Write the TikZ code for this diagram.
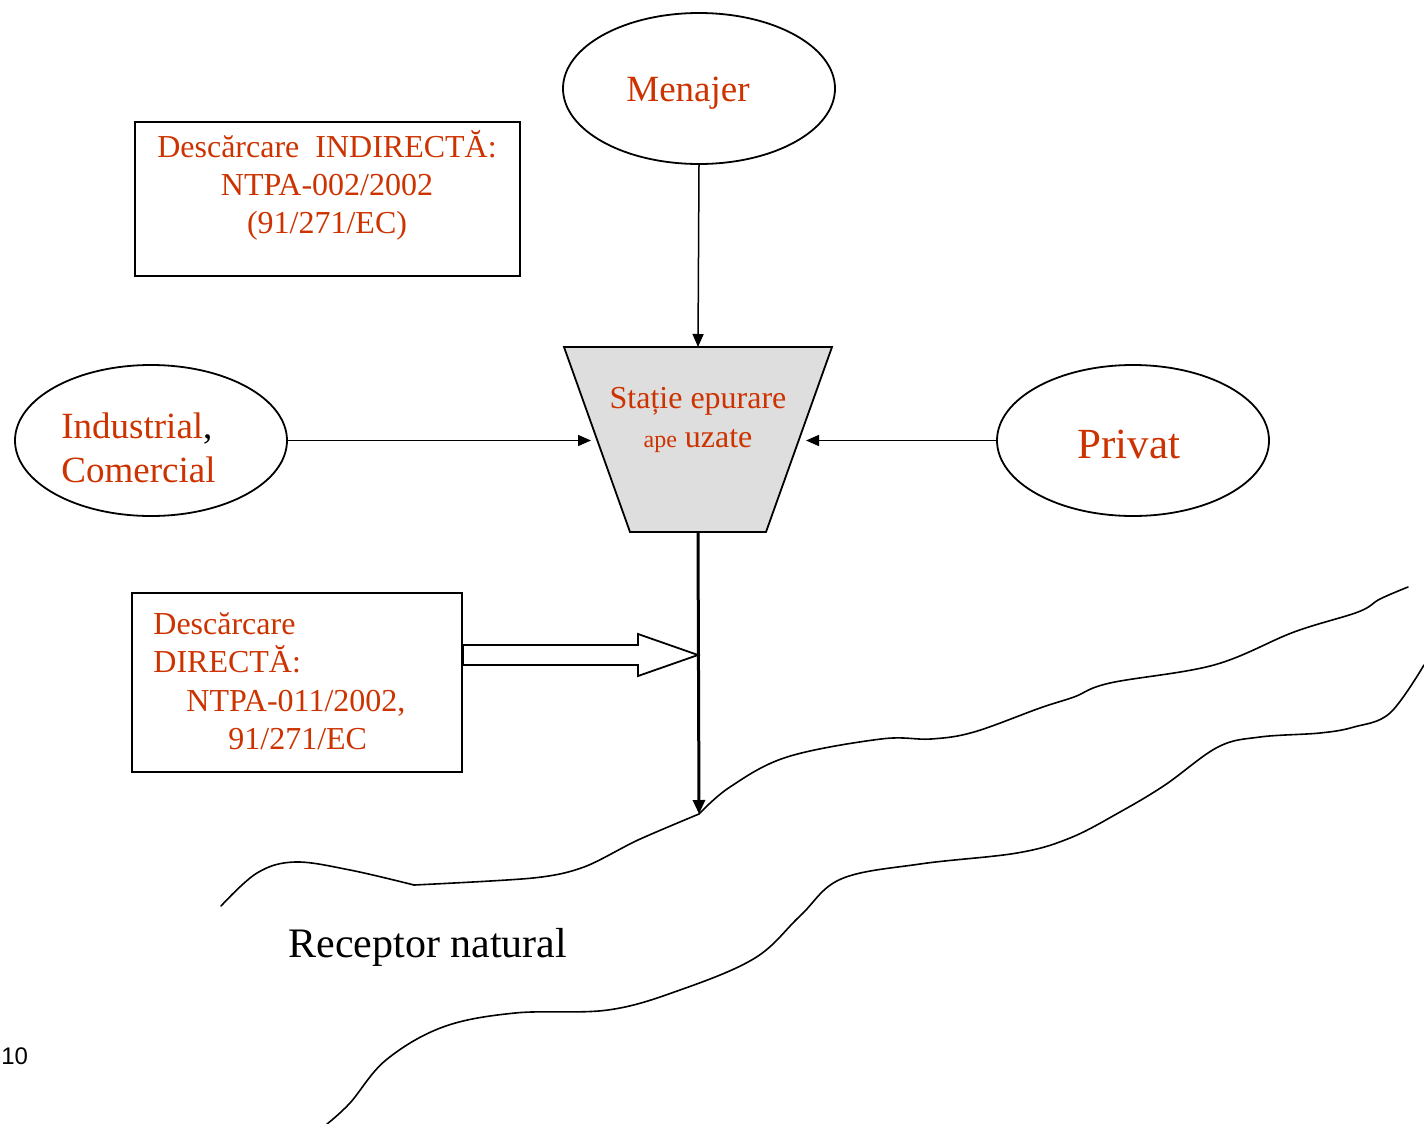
\documentclass[tikz,border=0pt]{standalone}
\usepackage{fontspec}
\setmainfont{Liberation Serif}
\newfontfamily\arialf{Liberation Sans}
\usetikzlibrary{shapes.geometric,arrows.meta}
\definecolor{txtred}{RGB}{204,51,0}
\definecolor{trapfill}{RGB}{222,222,222}
\begin{document}
\begin{tikzpicture}[x=0.5pt,y=-0.5pt,
  oval/.style={draw,ellipse,line width=0.9pt,minimum width=136pt,minimum height=75.5pt,inner sep=0pt},
  frame/.style={draw,line width=0.9pt,inner sep=0pt},
  lbl/.style={text=txtred,inner sep=0pt},
  flow/.style={line width=0.75pt,-{Triangle[length=6.5pt,width=5.5pt]}},
  mainflow/.style={line width=1.5pt,-{Triangle[length=7pt,width=6pt]}},
  bank/.style={line width=0.8pt,line cap=round,line join=round}]
\useasboundingbox (0,0) rectangle (1424,1124);

% ellipses
\node (men) [oval] at (699,88.5) {};
\node (ind) [oval] at (151,440.5) {};
\node (priv) [oval] at (1133,440.5) {};

% boxes
\node (indir) [frame,minimum width=192.5pt,minimum height=77pt] at (327.5,199) {};
\node (dir) [frame,minimum width=165pt,minimum height=89.5pt] at (297,682.5) {};

% treatment station (trapezoid)
\coordinate (tTL) at (564,347);
\coordinate (tTR) at (832,347);
\coordinate (tBR) at (766,532);
\coordinate (tBL) at (630,532);
\draw[line width=0.9pt,fill=trapfill,line join=miter] (tTL) -- (tTR) -- (tBR) -- (tBL) -- cycle;
\coordinate (tTop) at (698,347);
\coordinate (tLeft) at (591,440.5);
\coordinate (tRight) at (806,440.5);
\coordinate (tBot) at (698,532);
\coordinate (riv) at (699,814);
\coordinate (joint) at (698,655);

% texts
\node[lbl,anchor=base,font=\fontsize{18.5}{22}\selectfont] (menT) at (688,101) {Menajer};
\node[lbl,anchor=base,font=\fontsize{21.5}{25}\selectfont] (privT) at (1129,458) {Privat};
\node[lbl,anchor=base west,font=\fontsize{18.5}{22}\selectfont] (indT1) at (61,438) {Industrial\textcolor{black}{,}};
\node[lbl,anchor=base west,font=\fontsize{18.5}{22}\selectfont] (indT2) at (61,482) {Comercial};

\node[lbl,anchor=base,font=\fontsize{16}{19}\selectfont] (iT1) at (327,157) {Descărcare\ \ INDIRECTĂ:};
\node[lbl,anchor=base,font=\fontsize{16}{19}\selectfont] (iT2) at (327,195) {NTPA-002/2002};
\node[lbl,anchor=base,font=\fontsize{16}{19}\selectfont] (iT3) at (327,233) {(91/271/EC)};

\node[lbl,anchor=base west,font=\fontsize{16}{19}\selectfont] (dT1) at (153,634) {Descărcare};
\node[lbl,anchor=base west,font=\fontsize{16}{19}\selectfont] (dT2) at (153,672) {DIRECTĂ:};
\node[lbl,anchor=base west,font=\fontsize{16}{19}\selectfont] (dT3) at (186,711) {NTPA-011/2002,};
\node[lbl,anchor=base west,font=\fontsize{16}{19}\selectfont] (dT4) at (228,749) {91/271/EC};

\node[lbl,anchor=base,font=\fontsize{16}{19}\selectfont] (sT1) at (698,408) {Stație epurare};
\node[lbl,anchor=base,font=\fontsize{16}{19}\selectfont] (sT2) at (698,447) {{\fontsize{12}{14}\selectfont ape} uzate};

\node[anchor=base west,inner sep=0pt,font=\fontsize{21}{25}\selectfont] (recT) at (288,957) {Receptor natural};
\node[anchor=base west,inner sep=0pt,font=\arialf\fontsize{12}{14}\selectfont] (pg) at (1,1064) {10};

% connectors
\draw[flow] (men.south) -- (tTop);
\draw[flow] (ind.east) -- (tLeft);
\draw[flow] (priv.west) -- (tRight);
\draw[mainflow] (tBot) -- (riv);

% hollow block arrow from DIRECT box
\draw[line width=0.9pt,fill=white,line join=miter]
  (dir.east |- 0,645) -- (638,645) -- (638,634) -- (joint) -- (638,676) -- (638,665) -- (dir.east |- 0,665) -- cycle;

% river banks
\draw[bank] plot[smooth,tension=0.6] coordinates {(221,906) (257,873) (295,862) (350,870) (414,885)};
\draw[bank] plot[smooth,tension=0.5] coordinates {(414,885) (533,878) (584,867) (638,840) (699,814)};
\draw[bank] plot[smooth,tension=0.6] coordinates {(699,814) (730,787) (787,757) (881,739) (931,739) (974,732) (1040,708) (1074,697) (1110,683) (1214,665) (1294,632) (1358,612) (1380,599) (1408,587)};
\draw[bank] plot[smooth,tension=0.6] coordinates {(327,1124) (350,1103) (386,1060) (443,1027) (515,1013) (608,1010) (680,990) (755,958) (800,916) (841,879) (920,864) (1017,853) (1070,838) (1120,812) (1165,785) (1218,747) (1260,737) (1320,733) (1354,727) (1390,713) (1424,665)};
\end{tikzpicture}
\end{document}
